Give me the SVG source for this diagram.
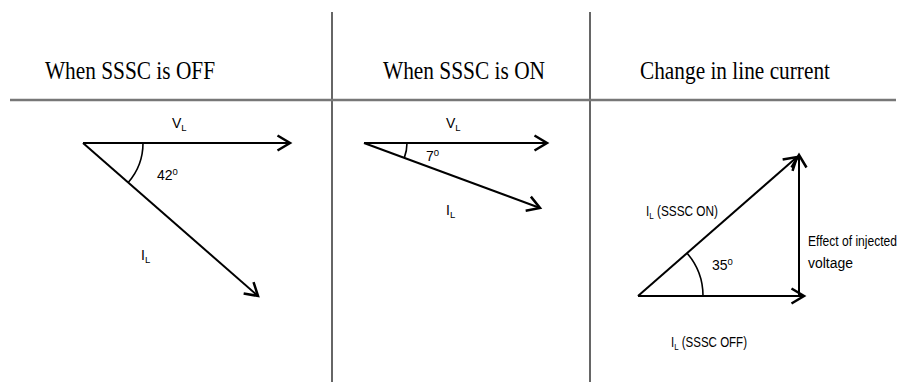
<svg xmlns="http://www.w3.org/2000/svg" width="912" height="382" viewBox="0 0 912 382">
<style>
.title{font-family:"Liberation Serif","Times New Roman",serif;font-size:26px;fill:#000}
.lbl{font-family:"Liberation Sans",Arial,sans-serif;font-size:14px;fill:#000}
.sub{font-size:9.5px}
.sup{font-size:9.5px}
.vec{stroke:#000;stroke-width:2;fill:none}
.arc{stroke:#000;stroke-width:1.6;fill:none}
.frame{stroke:#333;stroke-width:1.5}
</style>
<defs>
<marker id="arr" markerUnits="userSpaceOnUse" markerWidth="20" markerHeight="20" viewBox="-12 -8 14 16" refX="0" refY="0" orient="auto">
<path d="M-10,-6 L0,0 L-10,6" fill="none" stroke="#000" stroke-width="2"/>
</marker>
</defs>
<g id="frame">
<line class="frame" x1="332" y1="12" x2="332" y2="382"/>
<line class="frame" x1="590" y1="12" x2="590" y2="382"/>
<line x1="10" y1="100" x2="896" y2="100" stroke="#777" stroke-width="2.5"/>
</g>
<g id="titles">
<text class="title" x="45" y="79" textLength="170" lengthAdjust="spacingAndGlyphs">When SSSC is OFF</text>
<text class="title" x="383" y="79" textLength="162" lengthAdjust="spacingAndGlyphs">When SSSC is ON</text>
<text class="title" x="640" y="79" textLength="190" lengthAdjust="spacingAndGlyphs">Change in line current</text>
</g>
<g id="connectors">
<line class="vec" x1="83" y1="143" x2="290" y2="143" marker-end="url(#arr)"/>
<line class="vec" x1="83" y1="143" x2="258" y2="296" marker-end="url(#arr)"/>
<line class="vec" x1="364" y1="143" x2="547" y2="143" marker-end="url(#arr)"/>
<line class="vec" x1="364" y1="143" x2="540" y2="208" marker-end="url(#arr)"/>
<line class="vec" x1="638" y1="296" x2="804" y2="296" marker-end="url(#arr)"/>
<line class="vec" x1="638" y1="296" x2="797" y2="157" marker-end="url(#arr)"/>
<line class="vec" x1="799" y1="296" x2="799" y2="155" marker-end="url(#arr)"/>
</g>
<g id="panel-off">
<path class="arc" d="M143,143 A60,60 0 0 1 128.2,182.5"/>
<text class="lbl" x="172" y="128">V<tspan class="sub" dy="3">L</tspan></text>
<text class="lbl" x="157" y="180">42<tspan class="sup" dy="-5">0</tspan></text>
<text class="lbl" x="141" y="260">I<tspan class="sub" dy="3">L</tspan></text>
</g>
<g id="panel-on">
<path class="arc" d="M407,143 A43,43 0 0 1 404.3,157.9"/>
<text class="lbl" x="446" y="128">V<tspan class="sub" dy="3">L</tspan></text>
<text class="lbl" x="426" y="161">7<tspan class="sup" dy="-5">0</tspan></text>
<text class="lbl" x="446" y="215">I<tspan class="sub" dy="3">L</tspan></text>
</g>
<g id="panel-change">
<path class="arc" d="M703,296 A65,65 0 0 0 686.9,253"/>
<text class="lbl" x="712" y="270">35<tspan class="sup" dy="-5">0</tspan></text>
<text class="lbl" x="646" y="216" textLength="72" lengthAdjust="spacingAndGlyphs">I<tspan class="sub" dy="3">L</tspan><tspan dy="-3"> (SSSC ON)</tspan></text>
<text class="lbl" x="808" y="246" textLength="89" lengthAdjust="spacingAndGlyphs">Effect of injected</text>
<text class="lbl" x="808" y="268" textLength="45" lengthAdjust="spacingAndGlyphs">voltage</text>
<text class="lbl" x="671" y="347" textLength="76" lengthAdjust="spacingAndGlyphs">I<tspan class="sub" dy="3">L</tspan><tspan dy="-3"> (SSSC OFF)</tspan></text>
</g>
</svg>
